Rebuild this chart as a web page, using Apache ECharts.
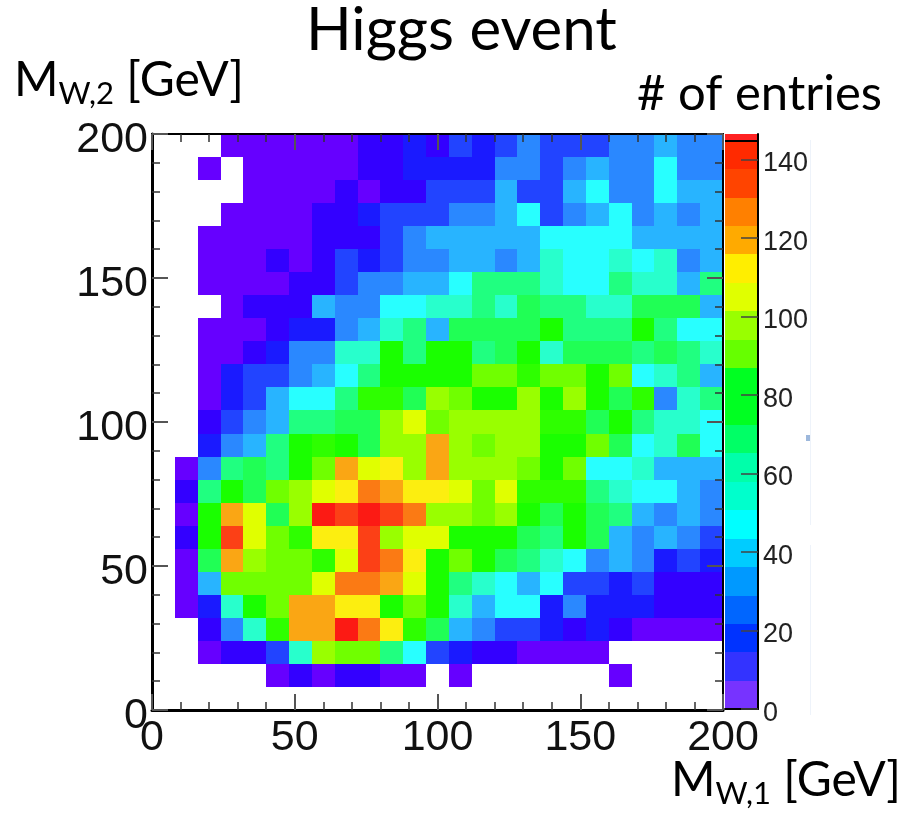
<!DOCTYPE html>
<html>
<head>
<meta charset="utf-8">
<style>html,body{margin:0;padding:0;background:#fff}#chart{width:903px;height:817px}</style>
<script src="https://cdn.jsdelivr.net/npm/echarts@6/dist/echarts.min.js"></script>
</head>
<body>
<div id="chart"></div>
<script>
// Bin width in GeV on both axes (25 bins over 0-200)
var binWidth = 8;
// Entries per bin: rows run from the top of the plot (MW,2 = 192-200) downward, columns from MW,1 = 0. 0 = empty bin.
var row00 = [0,0,0,4,4,4,4,4,4,11,11,18,11,25,18,25,33,25,25,25,33,33,40,33,33];
var row01 = [0,0,4,0,4,4,4,4,4,11,11,18,18,18,18,33,33,25,33,40,33,33,47,33,33];
var row02 = [0,0,0,0,4,4,4,4,11,4,11,11,25,25,25,40,25,25,40,47,33,33,47,40,40];
var row03 = [0,0,0,4,4,4,4,11,11,18,25,25,25,33,33,40,47,25,33,40,47,33,40,33,40];
var row04 = [0,0,4,4,4,4,4,11,11,11,25,33,40,40,40,40,40,47,47,47,47,40,40,40,40];
var row05 = [0,0,4,4,4,11,4,11,25,18,25,33,33,40,40,33,40,54,47,47,54,47,54,33,40];
var row06 = [0,0,4,4,4,4,11,11,25,33,33,40,40,47,61,61,61,54,47,47,61,54,54,40,61];
var row07 = [0,0,0,4,11,11,11,40,33,33,47,47,54,54,61,54,69,61,61,54,54,69,69,69,40];
var row08 = [0,0,4,4,4,11,18,18,33,40,54,61,40,69,69,69,69,76,61,61,61,76,61,47,47];
var row09 = [0,0,4,4,11,18,33,33,54,54,76,61,76,76,61,69,76,54,69,69,69,61,69,61,54];
var row10 = [0,0,4,18,25,25,33,40,47,61,76,76,76,76,90,90,83,90,90,76,90,47,54,61,40];
var row11 = [0,0,4,18,25,40,47,47,61,83,83,69,98,90,76,76,98,76,98,76,69,83,33,54,61];
var row12 = [0,0,11,25,33,40,61,61,69,69,98,105,90,98,98,98,98,83,83,69,76,61,54,54,47];
var row13 = [0,0,18,33,40,61,76,83,76,69,98,98,119,98,90,98,98,76,76,90,69,47,54,69,47];
var row14 = [0,4,33,61,69,61,76,90,119,105,112,98,119,98,98,98,90,76,90,47,47,54,40,40,40];
var row15 = [0,11,61,76,69,90,98,105,112,127,119,112,112,105,90,105,83,83,83,61,54,47,47,40,33];
var row16 = [0,4,76,119,105,69,98,141,134,141,134,127,98,98,90,98,76,69,76,69,61,40,33,40,33];
var row17 = [0,11,76,134,105,90,83,112,112,134,98,105,105,76,76,76,69,61,76,69,40,33,40,33,25];
var row18 = [0,4,69,119,98,90,90,83,105,134,127,112,76,90,76,69,61,54,47,33,40,33,18,25,18];
var row19 = [0,4,40,90,90,90,90,105,127,127,119,105,76,61,54,47,40,47,25,25,18,25,11,11,11];
var row20 = [0,4,18,54,76,90,119,119,112,112,76,90,76,54,40,47,47,18,33,18,18,18,11,11,11];
var row21 = [0,0,11,33,54,83,119,119,141,127,112,83,69,40,33,25,25,18,11,18,11,4,4,4,4];
var row22 = [0,0,4,11,11,25,54,98,90,90,61,47,25,18,11,11,4,4,4,4,0,0,0,0,0];
var row23 = [0,0,0,0,0,4,11,4,11,11,4,4,0,4,0,0,0,0,0,0,4,0,0,0,0];
var row24 = [0,0,0,0,0,0,0,0,0,0,0,0,0,0,0,0,0,0,0,0,0,0,0,0,0];
var rows = [row00,row01,row02,row03,row04,row05,row06,row07,row08,row09,row10,row11,row12,row13,row14,row15,row16,row17,row18,row19,row20,row21,row22,row23,row24];

// Colour scale: upper limit of each band of entries
var bandEdges = [7.2,14.5,21.7,28.9,36.2,43.4,50.7,57.9,65.1,72.4,79.6,86.8,94.1,101.3,108.5,115.8,123,130.2,137.5,144.7];
var cellColors = ['#6600ff','#3300ff','#1a1aff','#2244ff','#2a88ff','#28b4ff','#28ffff','#28ffcc','#20ff80','#20ff55','#1aff00','#2eff00','#70ff00','#99ff00','#e0ff00','#fcee10','#faa614','#fb7a14','#fc4016','#fc1a14'];
var barColors = ['#7733ff','#3333ff','#0033ff','#0066ff','#0099ff','#00ccff','#00ffff','#00ffcc','#00ffaa','#00ff66','#00ff22','#00ff22','#66ff00','#99ff00','#e0ff00','#ffee00','#ffaa00','#ff8000','#ff4400','#ff2a00'];
var barTop = 146.5;
var barTicks = [0,20,40,60,80,100,120,140];
var axisTicks = [0,50,100,150,200];

function colorOf(v){
  for (var i=0;i<bandEdges.length;i++){ if (v<bandEdges[i]) return cellColors[i]; }
  return cellColors[cellColors.length-1];
}

var cells = [];
rows.forEach(function(row,r){
  row.forEach(function(v,c){
    if (v>0) cells.push([c*binWidth, 200-(r+1)*binWidth, v]);
  });
});
var bands = bandEdges.map(function(hi,i){ return [i===0?0:bandEdges[i-1], hi, barColors[i]]; });
bands.push([bandEdges[bandEdges.length-1], barTop, '#ff2222']);
bands.push([bandEdges[bandEdges.length-1]-0.15, bandEdges[bandEdges.length-1]+0.15, '#000000']);

function rectFrom(api,x0,y0,x1,y1,color){
  var a=api.coord([x0,y0]), b=api.coord([x1,y1]);
  var l=Math.round(a[0]), r=Math.round(b[0]), t=Math.round(b[1]), m=Math.round(a[1]);
  return {type:'rect',shape:{x:l,y:t,width:r-l,height:m-t},style:{fill:color}};
}

var labelFont = 'Liberation Sans';
var tickColor = '#555';
function mainAxis(pos,withLabels,lineWidth){
  return {
    type:'value',gridIndex:0,min:0,max:200,interval:50,position:pos,z:10,
    axisLine:{show:true,onZero:false,lineStyle:{color:'#000',width:lineWidth}},
    axisTick:{show:true,inside:true,length:16,lineStyle:{color:tickColor,width:2}},
    minorTick:{show:true,splitNumber:5,length:8,lineStyle:{color:'#333',width:1.5}},
    splitLine:{show:false},minorSplitLine:{show:false},
    axisLabel:{show:withLabels,color:'#111',fontFamily:labelFont,fontSize:43,hideOverlap:false}
  };
}
var xBottom = mainAxis('bottom',true,3); xBottom.axisLabel.margin = 7;
xBottom.axisLabel.customValues = axisTicks;
var yLeft = mainAxis('left',true,3); yLeft.axisLabel.margin = 4;
yLeft.axisLabel.verticalAlign = 'top'; yLeft.axisLabel.lineHeight = 13;
yLeft.axisLabel.customValues = axisTicks;

var option = {
  animation:false,
  backgroundColor:'#fff',
  title:{text:'Higgs event',left:301,top:-4,textStyle:{fontFamily:'Lato',fontWeight:'normal',fontSize:60,color:'#000'}},
  grid:[
    {left:152,top:134,width:571,height:576,containLabel:false},
    {left:725,top:134,width:33,height:575,containLabel:false}
  ],
  xAxis:[
    xBottom,
    mainAxis('top',false,2),
    {type:'value',gridIndex:1,min:0,max:1,position:'bottom',z:10,
     axisLine:{show:true,onZero:false,lineStyle:{color:'#000',width:2}},axisTick:{show:false},axisLabel:{show:false},splitLine:{show:false}}
  ],
  yAxis:[
    yLeft,
    mainAxis('right',false,2),
    {type:'value',gridIndex:1,min:0,max:barTop,position:'right',z:10,
     axisLine:{show:true,onZero:false,lineStyle:{color:'#000',width:2}},
     axisTick:{show:true,inside:true,length:17,customValues:barTicks,lineStyle:{color:'#444',width:1.5}},
     splitLine:{show:false},
     axisLabel:{color:'#222',fontFamily:labelFont,fontSize:27,margin:5,hideOverlap:false,customValues:barTicks,verticalAlign:'top',lineHeight:9}}
  ],
  series:[
    {type:'custom',name:'entries',coordinateSystem:'cartesian2d',xAxisIndex:0,yAxisIndex:0,z:2,clip:true,
     data:cells,encode:{x:0,y:1},silent:true,
     renderItem:function(params,api){
       var x=api.value(0), y=api.value(1);
       return rectFrom(api,x,y,x+binWidth,y+binWidth,colorOf(api.value(2)));
     }},
    {type:'custom',name:'scale',coordinateSystem:'cartesian2d',xAxisIndex:2,yAxisIndex:2,z:2,clip:true,
     data:bands,silent:true,encode:{y:[0,1]},
     renderItem:function(params,api){
       var b=bands[params.dataIndex];
       return rectFrom(api,0,b[0],1,b[1],b[2]);
     }}
  ],
  graphic:[
    {type:'text',left:14,top:57,z:20,style:{text:'M{s|W,2} [GeV]',fontFamily:'Lato',fontSize:48,fill:'#000',rich:{s:{fontFamily:'Lato',fontSize:31,fill:'#000',verticalAlign:'bottom',padding:[26,0,0,0]}}}},
    {type:'text',left:671,top:757,z:20,style:{text:'M{s|W,1} [GeV]',fontFamily:'Lato',fontSize:48,fill:'#000',rich:{s:{fontFamily:'Lato',fontSize:31,fill:'#000',verticalAlign:'bottom',padding:[26,0,0,0]}}}},
    {type:'text',left:637,top:70,z:20,style:{text:'# of entries',fontFamily:'Lato',fontSize:49,fill:'#000'}},
    {type:'rect',left:810,top:140,z:1,shape:{width:1,height:385},style:{fill:'#eef3fa'}},
    {type:'rect',left:810,top:545,z:1,shape:{width:1,height:170},style:{fill:'#eef3fa'}},
    {type:'rect',left:806,top:435,z:1,shape:{width:4,height:6},style:{fill:'#9db8dc'}}
  ]
};
var chart = echarts.init(document.getElementById('chart'),null,{renderer:'canvas'});
chart.setOption(option);
</script>
</body>
</html>
